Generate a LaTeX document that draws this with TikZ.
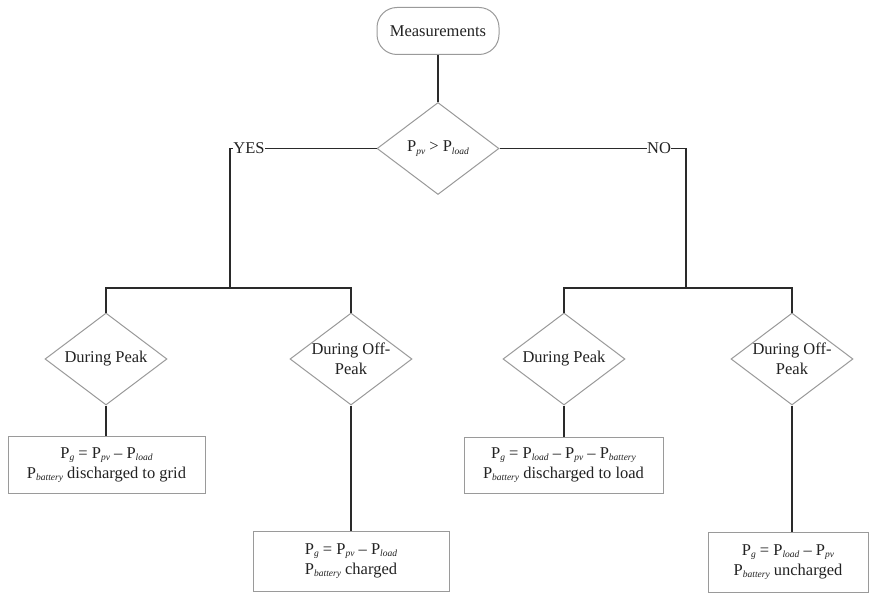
\documentclass[tikz,border=0pt]{standalone}
\usepackage{fontspec}
\setmainfont{Liberation Serif}
\usetikzlibrary{shapes.geometric}
\definecolor{linec}{HTML}{2A2A2A}
\definecolor{edgec}{HTML}{9A9A9A}
\definecolor{inkc}{HTML}{222222}
% power symbol with an italic subscript
\newcommand\Psb[1]{P\raisebox{-0.35ex}{\fontsize{9.5}{10}\selectfont\itshape #1}}

\begin{document}
\begin{tikzpicture}[x=1pt,y=-1pt,
  every node/.style={text=inkc, font=\fontsize{16.5}{20}\selectfont},
  conn/.style={draw=linec, line width=1.6pt},
  startbox/.style={draw=edgec, line width=1pt, rounded corners=20pt,
    minimum width=122pt, minimum height=47pt, inner sep=0pt},
  decision/.style={diamond, draw=edgec, line width=1pt, minimum width=122pt,
    minimum height=92pt, inner sep=0pt, shape aspect=1.33, align=center},
  resultbox/.style={draw=edgec, line width=1pt, inner sep=0pt, align=center},
  branchlbl/.style={fill=white, inner sep=0.5pt}]

\fill[white] (0,0) rectangle (869,593);
\useasboundingbox (0,0) rectangle (869,593);

% start and first decision
\node[startbox] (meas) at (438,31) {Measurements};
\node[decision] (cmp) at (438,148.5) {\Psb{pv} > \Psb{load}};

% tariff-period decisions
\node[decision] (pkL) at (106,359) {During Peak};
\node[decision] (opL) at (351,359) {During Off-\\Peak};
\node[decision] (pkR) at (564,359) {During Peak};
\node[decision] (opR) at (792,359) {During Off-\\Peak};

% outcome boxes
\node[resultbox, minimum width=197pt, minimum height=57pt] (b1) at (106.5,465)
  {P\raisebox{-0.35ex}{\fontsize{9.5}{10}\selectfont\itshape g} = \Psb{pv} – \Psb{load}\\
   \Psb{battery} discharged to grid};
\node[resultbox, minimum width=196pt, minimum height=60pt] (b2) at (351,561)
  {P\raisebox{-0.35ex}{\fontsize{9.5}{10}\selectfont\itshape g} = \Psb{pv} – \Psb{load}\\
   \Psb{battery} charged};
\node[resultbox, minimum width=199pt, minimum height=56pt] (b3) at (563.5,465)
  {P\raisebox{-0.35ex}{\fontsize{9.5}{10}\selectfont\itshape g} = \Psb{load} – \Psb{pv} – \Psb{battery}\\
   \Psb{battery} discharged to load};
\node[resultbox, minimum width=160pt, minimum height=60pt] (b4) at (788,562)
  {P\raisebox{-0.35ex}{\fontsize{9.5}{10}\selectfont\itshape g} = \Psb{load} – \Psb{pv}\\
   \Psb{battery} uncharged};

% junction points of the branches
\coordinate (jL) at (230,288);
\coordinate (jR) at (686,288);

% connectors
\draw[conn] (meas) -- (cmp);
\draw[conn] (cmp.west) -| (jL);
\draw[conn] (cmp.east) -| (jR);
\draw[conn] (pkL.north) |- (jL) -| (opL.north);
\draw[conn] (pkR.north) |- (jR) -| (opR.north);
\draw[conn] (pkL.south) -- (pkL.south |- b1.north);
\draw[conn] (opL.south) -- (opL.south |- b2.north);
\draw[conn] (pkR.south) -- (pkR.south |- b3.north);
\draw[conn] (opR.south) -- (opR.south |- b4.north);

% branch labels
\node[branchlbl] (yes) at (249,148) {YES};
\node[branchlbl] (no) at (659,148) {NO};
\end{tikzpicture}
\end{document}
